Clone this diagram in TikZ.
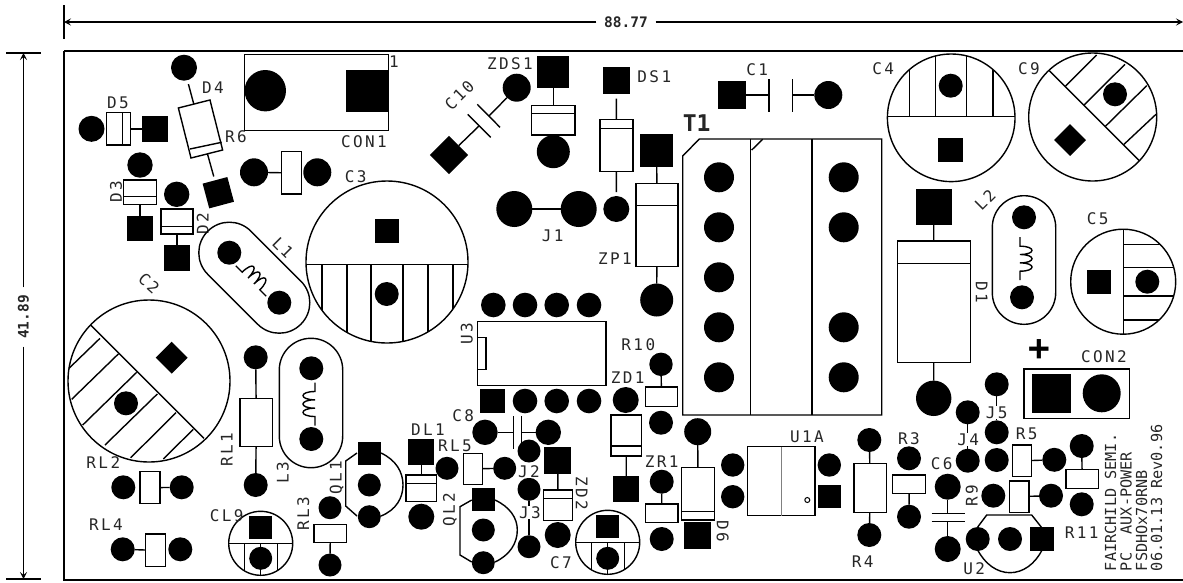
\documentclass[tikz,border=0pt]{standalone}
\usepackage{fontspec}
\setmonofont[LetterSpace=15]{DejaVu Sans Mono}
\newfontfamily\silkfont{DejaVu Sans Mono}
\usepackage{tikz}
\usetikzlibrary{arrows.meta}
\tikzset{>={Stealth[length=7pt,width=7pt,inset=3pt]}}
\tikzset{
  rpad/.style={circle,fill=black,inner sep=0pt,outer sep=0pt,minimum size=#1},
  spad/.style={rectangle,fill=black,inner sep=0pt,outer sep=0pt,minimum size=#1},
  partbody/.style={rectangle,draw,inner sep=0pt,outer sep=0pt},
  reflbl/.style={font=\ttfamily\fontsize{16}{16}\selectfont,inner sep=0pt,text=black!85},
  dimlbl/.style={font=\silkfont\bfseries\fontsize{14.5}{14.5}\selectfont,inner sep=7pt,text=black!85},
  silklbl/.style={font=\silkfont\fontsize{15.2}{15.2}\selectfont,inner sep=0pt,rotate=90,anchor=west,text=black!85}
}
\newcommand{\coil}[4]{\draw[shift={(#1,#2)},rotate=#3,xscale=#4] (0,-21.5)--(0,-12.5)
  .. controls (16,-12.5) and (16,-4.2) .. (0,-4.2)
  .. controls (16,-4.2) and (16,4.2) .. (0,4.2)
  .. controls (16,4.2) and (16,12.5) .. (0,12.5) -- (0,21.5);}

\begin{document}
\begin{tikzpicture}[x=1pt,y=-1pt,line width=1.4pt]
\useasboundingbox (0,0) rectangle (1183,582);

% Board outline
\draw[line width=1.6pt] (64,51) -- (1183,51) (64,51) -- (64,580) -- (1183,580);

% Dimensions
\draw (64,5) -- (64,39);
\coordinate (widthl) at (64,22);
\coordinate (widthr) at (1183,22);
\node[dimlbl] (widthlbl) at (626,22) {88.77};
\draw[->] (widthlbl) -- (widthl);
\draw[->] (widthlbl) -- (widthr);
\draw (6,53) -- (41,53);
\draw (6,579) -- (41,579);
\coordinate (heightt) at (23.5,53);
\coordinate (heightb) at (23.5,579);
\node[dimlbl,rotate=90] (heightlbl) at (23.5,317) {41.89};
\draw[->] (heightlbl) -- (heightt);
\draw[->] (heightlbl) -- (heightb);

% D5
\node[rpad=26] (d5a) at (91.5,128.8) {};
\node[partbody,minimum width=24,minimum height=32.3] (d5b) at (118.7,128.8) {};
\node[spad=26] (d5k) at (154.7,128.8) {};
\draw (d5b) -- (d5k);
\draw (122.5,112.7) -- (122.5,145);
\node[reflbl] (d5lbl) at (118,103) {D5};

% D4
\node[rpad=26] (d4a) at (184,67.7) {};
\node[partbody,rotate=14.2,minimum width=32.6,minimum height=51.6] (d4b) at (200.5,129) {};
\node[spad=25.6,rotate=15] (d4k) at (218.3,192.7) {};
\draw[shorten <=4pt] (d4a) -- (d4b);
\draw[shorten >=4pt] (d4b) -- (d4k);
\draw (190,149) -- (221.7,142.3);
\node[reflbl] (d4lbl) at (213,88) {D4};
\node[reflbl] (r6lbl) at (236,137) {R6};

% CON1
\node[partbody,minimum width=144,minimum height=76] (con1) at (316.3,92.3) {};
\node[rpad=41.4] (con1a) at (265.3,90.7) {};
\node[spad=42] (con1b) at (367,91.2) {};
\node[reflbl] (con1pin) at (394,62) {1};
\node[reflbl] (con1lbl) at (364,141.7) {CON1};

% R6
\node[rpad=28] (r6a) at (254,172.3) {};
\node[rpad=28] (r6c) at (317.3,172.3) {};
\node[partbody,minimum width=20,minimum height=42.3] (r6b) at (291.7,172.9) {};
\draw (r6a) -- (r6b);

% D3 and D2
\node[rpad=25.4] (d3a) at (140,165) {};
\node[partbody,minimum width=32.7,minimum height=24.3] (d3b) at (140,192.2) {};
\node[spad=25.7] (d3k) at (140,228.5) {};
\draw (d3b) -- (d3k);
\draw (124,196.7) -- (156.7,196.7);
\node[reflbl,rotate=90] (d3lbl) at (116,192) {D3};
\node[rpad=25.4] (d2a) at (176.7,194.3) {};
\node[partbody,minimum width=32.3,minimum height=25] (d2b) at (177,221.5) {};
\node[spad=25.7] (d2k) at (177,257.8) {};
\draw (d2b) -- (d2k);
\draw (161,226.7) -- (193.3,226.7);
\node[reflbl,rotate=90] (d2lbl) at (202.7,224) {D2};

% L1
\draw[rotate around={-45:(254.3,277.7)},rounded corners=30.4pt] (188.5,247.2) rectangle (320.1,308.2);
\node[rpad=24] (l1a) at (229.3,252.7) {};
\node[rpad=24] (l1b) at (279.3,302.7) {};
\coil{251}{281}{45}{1}
\node[reflbl,rotate=-45] (l1lbl) at (283,248) {L1};

% C3
\draw (387,262) circle [radius=81];
\draw (306,264.3) -- (468,264.3);
\foreach \hx in {322,347,371,403,428,453}
  \draw (\hx,264.3) -- (\hx,{262+sqrt(81^2-(\hx-387)^2)});
\node[spad=24] (c3a) at (386.7,230.7) {};
\node[rpad=24] (c3b) at (386.7,294) {};
\node[reflbl] (c3lbl) at (355.7,176.7) {C3};

% C2
\draw (149,381) circle [radius=81];
\draw (90.7,325) -- (204,438.3);
\foreach \ax/\ay/\bx/\by in {100/338.3/69/368.3,118.3/354/71.7/399.3,136.7/372.3/82.7/425,157.3/394/105/445,176/412.7/130.7/457.7,193.3/429.3/163.3/459}
  \draw (\ax,\ay) -- (\bx,\by);
\node[spad=22.6,rotate=45] (c2a) at (171.7,357.7) {};
\node[rpad=24] (c2b) at (126,403.3) {};
\node[reflbl,rotate=-42] (c2lbl) at (149,283) {C2};

% RL1
\node[rpad=24] (rl1a) at (255.7,357.3) {};
\node[partbody,minimum width=32.7,minimum height=48.4] (rl1b) at (256.3,422.5) {};
\node[rpad=24] (rl1c) at (255.7,485) {};
\draw (rl1a) -- (rl1b);
\draw (rl1b) -- (rl1c);
\node[reflbl,rotate=90] (rl1lbl) at (226.7,450) {RL1};

% L3
\draw[rounded corners=31.6pt] (279.3,338.3) rectangle (342.7,467.7);
\node[rpad=24] (l3a) at (311.3,368.3) {};
\node[rpad=24] (l3b) at (311.3,439) {};
\coil{315}{404}{0}{-1}
\node[reflbl,rotate=90] (l3lbl) at (282.7,472.7) {L3};

% RL2 and RL4
\node[rpad=24] (rl2a) at (123.3,487.3) {};
\node[partbody,minimum width=20,minimum height=32] (rl2b) at (150,487.7) {};
\node[rpad=24] (rl2c) at (181.7,487.3) {};
\draw (rl2b) -- (rl2c);
\node[reflbl] (rl2lbl) at (103.3,462.3) {RL2};
\node[rpad=24] (rl4a) at (122.7,549.3) {};
\node[partbody,minimum width=20,minimum height=32.7] (rl4b) at (155.2,550.3) {};
\node[rpad=24] (rl4c) at (180.3,549.3) {};
\draw (rl4a) -- (rl4b);
\node[reflbl] (rl4lbl) at (106,525) {RL4};

% CL9 and C7
\foreach \cx/\cy in {260.7/543.3,607.7/542.3}{
  \draw (\cx,\cy) circle [radius=32];
  \draw (\cx-32,\cy) -- (\cx+32,\cy);
  \draw (\cx-16.5,\cy) -- (\cx-16.5,\cy+27.4);
  \draw (\cx+17,\cy) -- (\cx+17,\cy+27.2);
  \draw (\cx,\cy) -- (\cx,\cy+32);
}
\node[spad=23] (cl9a) at (260.7,527.3) {};
\node[rpad=23] (cl9b) at (260.7,558.3) {};
\node[reflbl] (cl9lbl) at (226.7,516) {CL9};
\node[spad=23] (c7a) at (607.7,526.7) {};
\node[rpad=23] (c7b) at (607.7,558.3) {};
\node[reflbl] (c7lbl) at (561,562.7) {C7};

% RL3
\node[rpad=23] (rl3a) at (330,507.7) {};
\node[partbody,minimum width=32.7,minimum height=18.4] (rl3b) at (330.3,533.5) {};
\node[rpad=23] (rl3c) at (330,565) {};
\draw (rl3b) -- (rl3c);
\node[reflbl,rotate=90] (rl3lbl) at (303.3,513.3) {RL3};

% QL1
\draw (357,453) -- (345.7,461) -- (345.7,506) -- (357,516);
\draw (381,453) .. controls (396,460) and (403,472) .. (403,485) .. controls (403,498) and (396,510) .. (381,516);
\node[spad=23] (ql1a) at (369.3,453.3) {};
\node[rpad=23] (ql1b) at (369.3,485) {};
\node[rpad=23] (ql1c) at (369.3,516.7) {};
\node[reflbl,rotate=90] (ql1lbl) at (336.7,478) {QL1};

% QL2
\draw (471.7,500) -- (460,506.7) -- (460,555) -- (471.7,562);
\draw (495,500) .. controls (510,507) and (517.3,518) .. (517.3,530) .. controls (517.3,543) and (510,555) .. (495,562);
\node[spad=23] (ql2a) at (483.3,499.3) {};
\node[rpad=23] (ql2b) at (483.3,530) {};
\node[rpad=23] (ql2c) at (483.3,562.7) {};
\node[reflbl,rotate=90] (ql2lbl) at (450,510) {QL2};

% DL1
\node[spad=26] (dl1k) at (421.3,452.3) {};
\node[partbody,minimum width=30.7,minimum height=26.7] (dl1b) at (421.3,488.3) {};
\node[rpad=26] (dl1a) at (421.3,516.7) {};
\draw (dl1k) -- (dl1b);
\draw (406,483.3) -- (436.7,483.3);
\node[reflbl] (dl1lbl) at (428,429.3) {DL1};

% RL5
\node[rpad=23] (rl5a) at (447,468.3) {};
\node[partbody,minimum width=19.4,minimum height=31] (rl5b) at (473,468.8) {};
\node[rpad=23] (rl5c) at (504.7,468.3) {};
\draw (rl5b) -- (rl5c);
\node[reflbl] (rl5lbl) at (455,445.7) {RL5};

% C8
\node[rpad=25.4] (c8a) at (485,432.3) {};
\node[rpad=25.4] (c8b) at (548.3,432.3) {};
\coordinate (c8p) at (513.3,432.3);
\coordinate (c8q) at (521.7,432.3);
\draw (c8a) -- (c8p) (c8q) -- (c8b);
\draw (513.3,416) -- (513.3,449.3) (521.7,416) -- (521.7,449.3);
\node[reflbl] (c8lbl) at (463.3,416) {C8};

% J2 and J3
\node[rpad=23] (j2a) at (529,451) {};
\node[rpad=23] (j2b) at (529,489.3) {};
\node[rpad=23] (j3b) at (529,546.7) {};
\draw (j2b) -- (j3b);
\node[reflbl,fill=white,inner sep=0.5pt] (j2lbl) at (529,471.7) {J2};
\node[reflbl,fill=white,inner sep=0.5pt] (j3lbl) at (530,512.7) {J3};

% ZD2
\node[spad=27] (zd2k) at (557.7,460) {};
\node[partbody,minimum width=29.4,minimum height=30.7] (zd2b) at (558,505.4) {};
\node[rpad=26] (zd2a) at (557.7,535) {};
\draw (zd2k) -- (zd2b);
\draw (543.3,498.3) -- (572.7,498.3);
\node[reflbl,rotate=-90] (zd2lbl) at (581.7,493.3) {ZD2};

% U3
\node[partbody,minimum width=128.7,minimum height=64] (u3) at (541.7,353.7) {};
\draw (477.3,337.7) -- (486,337.7) -- (486,369.3) -- (477.3,369.3);
\foreach \px [count=\pn] in {493.3,525,556.7,589}
  \node[rpad=24.6] (u3t\pn) at (\px,305) {};
\node[spad=24.5] (u3b1) at (492.7,401) {};
\foreach \px [count=\pn from 2] in {525,556.7,589}
  \node[rpad=24.6] (u3b\pn) at (\px,401) {};
\node[reflbl,rotate=90] (u3lbl) at (466.7,333.3) {U3};

% ZD1
\node[rpad=26] (zd1a) at (625.7,400) {};
\node[partbody,minimum width=30.3,minimum height=41] (zd1b) at (626.2,435.5) {};
\node[spad=26] (zd1k) at (626.3,489) {};
\draw (zd1b) -- (zd1k);
\draw (611,446) -- (641.3,446);
\node[reflbl] (zd1lbl) at (627.7,378) {ZD1};

% R10
\node[rpad=23.4] (r10a) at (661,364.3) {};
\node[partbody,minimum width=31.6,minimum height=19.7] (r10b) at (661.5,396.8) {};
\node[rpad=24] (r10c) at (661,422.7) {};
\draw (r10a) -- (r10b);
\node[reflbl] (r10lbl) at (638.3,345) {R10};

% ZR1
\node[rpad=24] (zr1a) at (661.7,481.7) {};
\node[partbody,minimum width=32.3,minimum height=18.7] (zr1b) at (661.8,513.4) {};
\node[rpad=24] (zr1c) at (661.7,539) {};
\draw (zr1a) -- (zr1b);
\node[reflbl] (zr1lbl) at (661.7,461.7) {ZR1};

% D6
\node[rpad=27] (d6a) at (697.7,431.7) {};
\node[partbody,minimum width=32.6,minimum height=52.3] (d6b) at (698,493.9) {};
\node[spad=27] (d6k) at (697.7,535.3) {};
\draw (d6a) -- (d6b);
\draw (681.7,511.7) -- (714.3,511.7);
\node[reflbl,rotate=-90] (d6lbl) at (722.7,531.7) {D6};

% U1A
\node[partbody,minimum width=67.3,minimum height=69] (u1a) at (781.3,481.2) {};
\draw[line width=0.7pt,black!50] (781.7,446.7) -- (781.7,515.7);
\draw[line width=1pt] (807.3,500) circle [radius=2.5];
\node[rpad=23.4] (u1a1) at (732.7,465) {};
\node[rpad=23.4] (u1a2) at (732.7,496.7) {};
\node[rpad=23.4] (u1a3) at (829.3,465) {};
\node[spad=23] (u1a4) at (829.3,496.7) {};
\node[reflbl] (u1albl) at (807,436.7) {U1A};

% T1
\draw (699.3,139) -- (881.7,139) -- (881.7,415) -- (682.7,415) -- (682.7,156) -- cycle;
\draw (750.7,139) -- (750.7,415) (812,139) -- (812,415);
\draw (751.7,150) -- (762.7,139.3);
\foreach \py [count=\pn] in {177.3,227.3,277.3,327.3,377.3}
  \node[rpad=30] (t1l\pn) at (719,\py) {};
\foreach \py [count=\pn] in {177.3,227.3,327.3,377.3}
  \node[rpad=30] (t1r\pn) at (843.7,\py) {};
\node[font=\silkfont\bfseries\fontsize{23}{23}\selectfont,inner sep=0pt,text=black!85] (t1lbl) at (696.7,123) {T1};

% ZDS1
\node[rpad=28] (zds1c) at (516.7,87.7) {};
\node[spad=32] (zds1k) at (553.3,71.7) {};
\node[partbody,minimum width=43.3,minimum height=29.7] (zds1b) at (553.3,120.2) {};
\node[rpad=33] (zds1a) at (553.3,151.7) {};
\draw (zds1k) -- (zds1b);
\draw (531.7,113.3) -- (575,113.3);
\node[reflbl] (zds1lbl) at (510,64) {ZDS1};

% C10
\node[spad=26.9,rotate=45] (c10a) at (449,155) {};
\coordinate (c10p) at (488.8,116.2);
\coordinate (c10q) at (479.2,125.8);
\draw (zds1c) -- (c10p);
\draw (c10q) -- (c10a);
\draw (477.3,104.3) -- (500,127.3) (467.7,114.3) -- (490.7,137.3);
\node[reflbl,rotate=45] (c10lbl) at (459.3,95) {C10};

% DS1
\node[spad=27] (ds1k) at (616.3,80) {};
\node[partbody,minimum width=33,minimum height=52.4] (ds1b) at (616.5,145.5) {};
\node[rpad=26] (ds1a) at (616.3,209) {};
\draw[shorten <=5pt] (ds1k) -- (ds1b);
\draw[shorten >=4pt] (ds1b) -- (ds1a);
\draw (600,128.3) -- (633,128.3);
\node[reflbl] (ds1lbl) at (654.3,76.7) {DS1};

% J1
\node[rpad=36] (j1a) at (514.3,209) {};
\node[rpad=36] (j1b) at (578.7,209) {};
\draw (j1a) -- (j1b);
\node[reflbl] (j1lbl) at (552.7,235.7) {J1};

% ZP1
\node[spad=33] (zp1k) at (656.7,150.7) {};
\node[partbody,minimum width=42,minimum height=83] (zp1b) at (657,225.2) {};
\node[rpad=33] (zp1a) at (656.7,300) {};
\draw (zp1k) -- (zp1b);
\draw (zp1b) -- (zp1a);
\draw (636,205.7) -- (678,205.7);
\node[reflbl] (zp1lbl) at (615,258.3) {ZP1};

% C1
\node[spad=28] (c1a) at (732.3,95) {};
\node[rpad=28] (c1b) at (828.3,95) {};
\coordinate (c1p) at (769,95);
\coordinate (c1q) at (792.7,95);
\draw (c1a) -- (c1p) (c1q) -- (c1b);
\draw (769,79.3) -- (769,111.7) (792.7,79.3) -- (792.7,111.7);
\node[reflbl] (c1lbl) at (757.3,69.3) {C1};

% C4
\draw (951.2,117.8) circle [radius=63.8];
\draw (887.4,116.7) -- (1015,116.7);
\foreach \hx in {909.3,935.7,966.7,993}
  \draw (\hx,116.7) -- (\hx,{117.8-sqrt(63.8^2-(\hx-951.2)^2)});
\node[rpad=24] (c4a) at (950.7,85.7) {};
\node[spad=24.5] (c4b) at (950.7,150) {};
\node[reflbl] (c4lbl) at (883.3,69) {C4};

% C9
\draw (1092.7,117) circle [radius=64];
\draw (1049.3,70.7) -- (1139.3,160.7);
\foreach \ax/\ay/\bx/\by in {1096.7/55/1065.7/86,1125/64.3/1084/105,1146.7/85.7/1105.7/126,1156/114.3/1124/144.3}
  \draw (\ax,\ay) -- (\bx,\by);
\node[rpad=24] (c9a) at (1115,94.3) {};
\node[spad=22.6,rotate=45] (c9b) at (1070,140) {};
\node[reflbl] (c9lbl) at (1029,68.3) {C9};

% D1
\node[spad=36] (d1k) at (933.7,206.7) {};
\node[partbody,minimum width=73,minimum height=121.7] (d1b) at (933.8,301.9) {};
\node[rpad=35.4] (d1a) at (933.7,398.3) {};
\draw (d1k) -- (d1b);
\draw (d1b) -- (d1a);
\draw (897.3,263.3) -- (970.3,263.3);
\node[reflbl,rotate=-90] (d1lbl) at (981.7,292) {D1};

% L2
\draw[rounded corners=31.6pt] (992.3,195.7) rectangle (1055.7,324.3);
\node[rpad=24] (l2a) at (1024,217.3) {};
\node[rpad=24] (l2b) at (1022,297.3) {};
\coil{1020}{258.7}{0}{1}
\node[reflbl,rotate=45] (l2lbl) at (985,200) {L2};

% C5
\draw (1123.2,281.7) circle [radius=52.5];
\draw (1123.3,230) -- (1123.3,333.5);
\foreach \hy in {244.3,267.3,296,320}
  \draw (1123.3,\hy) -- ({1123.2+sqrt(52.5^2-(\hy-281.7)^2)},\hy);
\node[spad=24] (c5a) at (1099,282) {};
\node[rpad=24] (c5b) at (1147.3,281.7) {};
\node[reflbl] (c5lbl) at (1097.7,218.3) {C5};

% CON2
\node[font=\silkfont\bfseries\fontsize{36}{36}\selectfont,inner sep=0pt] (pluslbl) at (1039,350) {+};
\node[partbody,minimum width=105.7,minimum height=49.3] (con2) at (1076.8,393.7) {};
\node[spad=38.7] (con2a) at (1051.3,393.3) {};
\node[rpad=38] (con2b) at (1101.7,393.3) {};
\node[reflbl] (con2lbl) at (1104,356.7) {CON2};

% J4 and J5
\node[rpad=24] (j5a) at (996.7,384.3) {};
\node[rpad=24] (j5b) at (996.7,432.3) {};
\draw (j5a) -- (j5b);
\node[reflbl,fill=white,inner sep=0.5pt] (j5lbl) at (996.7,412.7) {J5};
\node[rpad=24] (j4a) at (967.7,412.3) {};
\node[rpad=24] (j4b) at (967.7,460.7) {};
\draw (j4a) -- (j4b);
\node[reflbl,fill=white,inner sep=0.5pt] (j4lbl) at (968.3,439.3) {J4};

% R5
\node[rpad=24] (r5a) at (996.7,460) {};
\node[partbody,minimum width=19,minimum height=31.7] (r5b) at (1022.2,460.8) {};
\node[rpad=24] (r5c) at (1054.3,459.8) {};
\draw (r5b) -- (r5c);
\node[reflbl] (r5lbl) at (1026.7,434) {R5};

% R9
\node[rpad=24] (r9a) at (993.3,495.7) {};
\node[partbody,minimum width=19.7,minimum height=31.3] (r9b) at (1019.2,496.6) {};
\node[rpad=24] (r9c) at (1051,495.7) {};
\draw (r9b) -- (r9c);
\node[reflbl,rotate=90] (r9lbl) at (971.7,496) {R9};

% R11
\node[rpad=24] (r11a) at (1081.7,446) {};
\node[partbody,minimum width=32.3,minimum height=19] (r11b) at (1082.2,479.2) {};
\node[rpad=24] (r11c) at (1081.7,504.3) {};
\draw (r11a) -- (r11b);
\node[reflbl] (r11lbl) at (1081.7,532.7) {R11};

% C6
\node[rpad=26] (c6a) at (947.7,486.7) {};
\node[rpad=26] (c6b) at (947.7,549) {};
\coordinate (c6p) at (947.7,513.7);
\coordinate (c6q) at (947.7,521.7);
\draw (c6a) -- (c6p) (c6q) -- (c6b);
\draw (931.7,513.7) -- (965,513.7) (931.7,521.7) -- (965,521.7);
\node[reflbl] (c6lbl) at (941.7,464) {C6};

% R3
\node[rpad=24] (r3a) at (909,458.3) {};
\node[partbody,minimum width=33,minimum height=18.3] (r3b) at (909.2,484.2) {};
\node[rpad=24] (r3c) at (909,516.7) {};
\draw (r3b) -- (r3c);
\node[reflbl] (r3lbl) at (909,438.3) {R3};

% R4
\node[rpad=24] (r4a) at (869.3,440) {};
\node[partbody,minimum width=32.7,minimum height=48.6] (r4b) at (870.3,488) {};
\node[rpad=24] (r4c) at (869.3,535) {};
\draw (r4a) -- (r4b);
\draw (r4b) -- (r4c);
\node[reflbl] (r4lbl) at (862.7,561.7) {R4};

% U2
\draw (977.7,527) -- (986.7,515) -- (1031.7,515) -- (1042,528);
\draw (977.7,550) .. controls (985,564) and (997,572.7) .. (1010,572.7) .. controls (1023,572.7) and (1035,564) .. (1042,550);
\node[rpad=24] (u2a) at (977.7,539) {};
\node[rpad=24] (u2b) at (1010,539) {};
\node[spad=23.5] (u2c) at (1042,539) {};
\node[reflbl] (u2lbl) at (974.3,568.3) {U2};

% Silk text
\node[silklbl] (silka) at (1110.7,571.7) {FAIRCHILD SEMI.};
\node[silklbl] (silkb) at (1126,571.7) {PC\ \ AUX-POWER};
\node[silklbl] (silkc) at (1141.7,571.7) {FSDHOx70RNB};
\node[silklbl] (silkd) at (1156.7,571.7) {06.01.13 Rev0.96};

\end{tikzpicture}
\end{document}
